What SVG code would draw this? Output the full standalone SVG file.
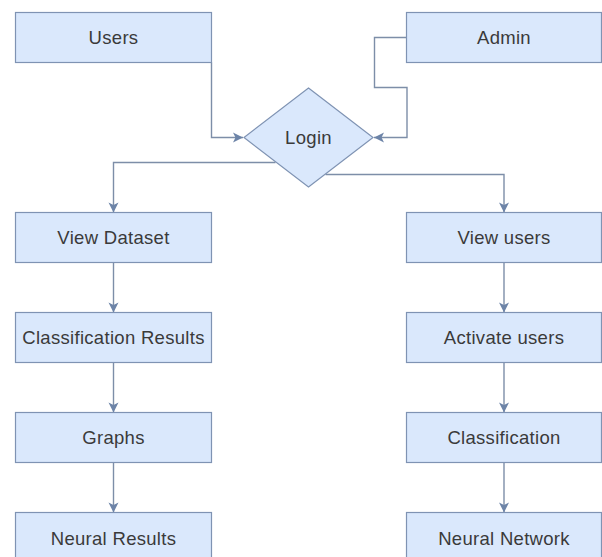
<svg xmlns="http://www.w3.org/2000/svg" width="602" height="557" viewBox="0 0 602 557">
  <style>
    .box { fill: #dae8fc; stroke: #7f93b3; stroke-width: 1.2; }
    .lbl { font-family: "Liberation Sans", Arial, sans-serif; font-size: 18.5px; letter-spacing: 0.3px; fill: #3a3a3a; text-anchor: middle; dominant-baseline: central; }
    .edge { fill: none; stroke: #7d8ea8; stroke-width: 1.4; marker-end: url(#arrow); }
  </style>
  <defs>
    <marker id="arrow" markerUnits="userSpaceOnUse" markerWidth="12" markerHeight="12" viewBox="-1 -6 12 12" refX="10" refY="0" orient="auto">
      <path d="M0,-5 L10,0 L0,5 L2.5,0 z" fill="#6d84a8"/>
    </marker>
  </defs>
  <rect width="602" height="557" fill="#ffffff"/>

  <g id="connectors">
    <path class="edge" d="M211.5,62.5 V137.5 H243"/>
    <path class="edge" d="M406.5,37.5 H374.5 V87.5 H407 V137.5 H374"/>
    <path class="edge" d="M275.5,162.5 H113.5 V212.5"/>
    <path class="edge" d="M325.5,174.5 H504 V212.5"/>
    <path class="edge" d="M113.5,262.5 V312.5"/>
    <path class="edge" d="M113.5,362.5 V412.5"/>
    <path class="edge" d="M113.5,462.5 V512.5"/>
    <path class="edge" d="M504,262.5 V312.5"/>
    <path class="edge" d="M504,362.5 V412.5"/>
    <path class="edge" d="M504,462.5 V512.5"/>
  </g>

  <g id="users">
    <rect class="box" x="15.5" y="12.5" width="196" height="50"/>
    <text class="lbl" x="113.5" y="37.5">Users</text>
  </g>
  <g id="admin">
    <rect class="box" x="406.5" y="12.5" width="195" height="50"/>
    <text class="lbl" x="504" y="37.5">Admin</text>
  </g>
  <g id="login">
    <polygon class="box" points="308.5,88 373,137.5 308.5,187 244,137.5"/>
    <text class="lbl" x="308.5" y="137.5">Login</text>
  </g>

  <g id="view-dataset">
    <rect class="box" x="15.5" y="212.5" width="196" height="50"/>
    <text class="lbl" x="113.5" y="237.5">View Dataset</text>
  </g>
  <g id="classification-results">
    <rect class="box" x="15.5" y="312.5" width="196" height="50"/>
    <text class="lbl" x="113.5" y="337.5">Classification Results</text>
  </g>
  <g id="graphs">
    <rect class="box" x="15.5" y="412.5" width="196" height="50"/>
    <text class="lbl" x="113.5" y="437.5">Graphs</text>
  </g>
  <g id="neural-results">
    <rect class="box" x="15.5" y="512.5" width="196" height="50"/>
    <text class="lbl" x="113.5" y="538">Neural Results</text>
  </g>

  <g id="view-users">
    <rect class="box" x="406.5" y="212.5" width="195" height="50"/>
    <text class="lbl" x="504" y="237.5">View users</text>
  </g>
  <g id="activate-users">
    <rect class="box" x="406.5" y="312.5" width="195" height="50"/>
    <text class="lbl" x="504" y="337.5">Activate users</text>
  </g>
  <g id="classification">
    <rect class="box" x="406.5" y="412.5" width="195" height="50"/>
    <text class="lbl" x="504" y="437.5">Classification</text>
  </g>
  <g id="neural-network">
    <rect class="box" x="406.5" y="512.5" width="195" height="50"/>
    <text class="lbl" x="504" y="538">Neural Network</text>
  </g>
</svg>
